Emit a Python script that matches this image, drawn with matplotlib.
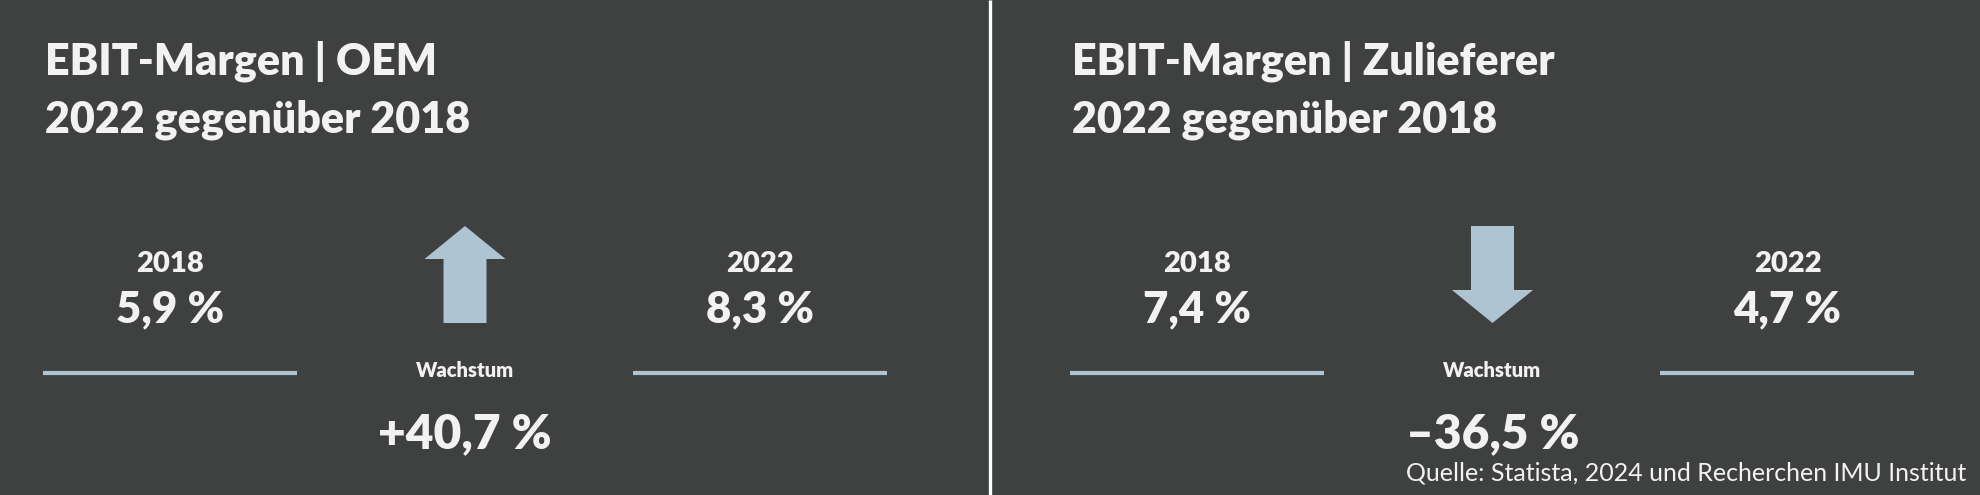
import matplotlib.pyplot as plt
from matplotlib.patches import Polygon

plt.rcParams['font.family'] = ['Lato', 'DejaVu Sans']

# data
panels = ['OEM', 'Zulieferer']
years = ['2018', '2022']
margins_oem = [5.9, 8.3]
margins_zulieferer = [7.4, 4.7]
growth = [40.7, -36.5]
source = 'Quelle: Statista, 2024 und Recherchen IMU Institut'

bg = '#3f4141'
fg = '#f2f2f2'
blue = '#aec4d2'
wt = 'heavy'

W, H = 1981, 495
fig = plt.figure(figsize=(W / 100, H / 100), dpi=100, facecolor=bg)
ax = fig.add_axes([0, 0, 1, 1])
ax.set_xlim(0, W)
ax.set_ylim(H, 0)
ax.axis('off')
ax.set_facecolor(bg)

# vertical divider between panels
ax.plot([990.5, 990.5], [0, H], color='white', lw=2.4, solid_capstyle='butt')


def fmt(v, sign=False):
    s = f'{abs(v):.1f}'.replace('.', ',')
    if sign:
        s = ('+' if v >= 0 else '\u2013') + s
    return s + ' %'


def draw_arrow(cx, up):
    # arrow between y=226 and y=323
    top, bot = 226, 323
    sw, hw, hl = 21.5, 40.5, 33
    if up:
        pts = [(cx, top), (cx + hw, top + hl), (cx + sw, top + hl), (cx + sw, bot),
               (cx - sw, bot), (cx - sw, top + hl), (cx - hw, top + hl)]
    else:
        pts = [(cx, bot), (cx + hw, bot - hl), (cx + sw, bot - hl), (cx + sw, top),
               (cx - sw, top), (cx - sw, bot - hl), (cx - hw, bot - hl)]
    ax.add_patch(Polygon(pts, closed=True, color=blue, lw=0))


offsets = [0, 1027.5]
margins = [margins_oem, margins_zulieferer]
for i, name in enumerate(panels):
    x0 = offsets[i]
    ax.text(x0 + 45, 75, f'EBIT-Margen | {name}', color=fg, fontsize=31,
            fontweight=wt, va='baseline', ha='left')
    ax.text(x0 + 45, 132, '2022 gegenüber 2018', color=fg, fontsize=31,
            fontweight=wt, va='baseline', ha='left')
    for j, (yr, val) in enumerate(zip(years, margins[i])):
        cx = x0 + [170, 760][j]
        ax.text(cx, 272, yr, color=fg, fontsize=21, fontweight=wt,
                ha='center', va='baseline')
        ax.text(cx, 322, fmt(val), color=fg, fontsize=31.5, fontweight=wt,
                ha='center', va='baseline')
        ax.plot([cx - 127, cx + 127], [373, 373], color=blue, lw=3,
                solid_capstyle='butt')
    mx = x0 + 465
    draw_arrow(mx, growth[i] >= 0)
    ax.text(mx, 377, 'Wachstum', color=fg, fontsize=14.5, fontweight=wt,
            ha='center', va='baseline')
    ax.text(mx, 448, fmt(growth[i], sign=True), color=fg, fontsize=34.5,
            fontweight=wt, ha='center', va='baseline')

ax.text(1966, 481, source, color=fg, fontsize=18, fontweight='normal',
        ha='right', va='baseline')

fig.savefig('out.png', dpi=100, facecolor=bg)
